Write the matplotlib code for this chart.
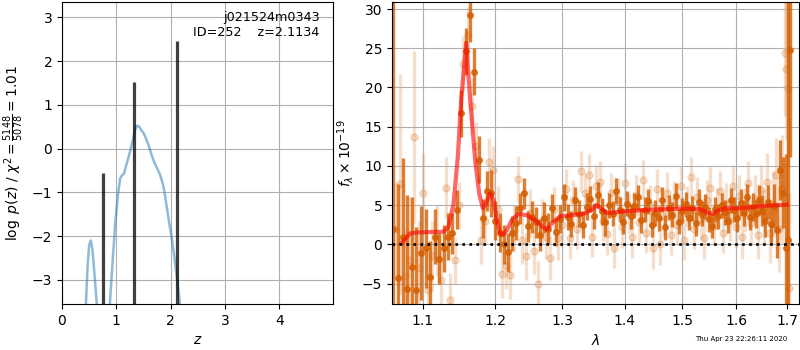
"""
Redshift fit figure: log p(z) on the left, 1D spectrum + best-fit model on the right.
"""
import numpy as np
import matplotlib
matplotlib.use("Agg")
import matplotlib.pyplot as plt
from matplotlib.ticker import NullLocator, NullFormatter, FixedLocator, FixedFormatter

# ---------- p(z) panel ----------
pz_z = [0.44, 0.47, 0.50, 0.53, 0.56, 0.60, 0.64, 0.70, 0.80, 0.88, 0.93, 0.98,
        1.03, 1.07, 1.10, 1.14, 1.20, 1.25, 1.30, 1.35, 1.38, 1.42, 1.46, 1.50,
        1.55, 1.60, 1.65, 1.70, 1.75, 1.80, 1.85, 1.88, 1.93, 1.98, 2.02, 2.07,
        2.12, 2.17, 2.20]
pz_logp = [-3.55, -2.7, -2.2, -2.1, -2.3, -2.9, -3.55, -4.5, -5.0, -3.55, -2.6, -1.7,
           -1.05, -0.68, -0.62, -0.57, -0.30, -0.08, 0.18, 0.45, 0.52, 0.50, 0.42, 0.36,
           0.22, 0.05, -0.15, -0.32, -0.45, -0.58, -0.78, -0.95, -1.35, -1.75, -2.05, -2.5,
           -3.0, -3.55, -3.9]
peak_z = [0.76, 1.32, 2.11]
peak_top = [-0.56, 1.52, 2.46]

obj_name = "j021524m0343"
obj_id = 252
z_best = 2.1134
chi2_num, chi2_den = 5148, 5078

# ---------- spectrum panel ----------
# binned spectrum (dark)
wave_b = [1.062, 1.068, 1.074, 1.080, 1.086, 1.092, 1.098, 1.104, 1.110, 1.116, 1.122, 1.128,
          1.134, 1.140, 1.146, 1.152, 1.158, 1.164, 1.170, 1.176, 1.182, 1.188, 1.194, 1.200,
          1.206, 1.212, 1.218, 1.224, 1.230, 1.236, 1.242, 1.248, 1.254, 1.260, 1.266, 1.272,
          1.278, 1.284, 1.290, 1.296,
          1.302, 1.308, 1.314, 1.320, 1.326, 1.332, 1.338, 1.344, 1.350, 1.356,
          1.362, 1.368, 1.374, 1.380, 1.386, 1.392, 1.398, 1.404, 1.410, 1.416,
          1.422, 1.428, 1.434, 1.440, 1.446, 1.452, 1.458, 1.464, 1.470, 1.476,
          1.482, 1.488, 1.494, 1.500, 1.506, 1.512, 1.518, 1.524, 1.530, 1.536,
          1.542, 1.548, 1.554, 1.560, 1.566, 1.572, 1.578, 1.584, 1.590, 1.596,
          1.602, 1.608, 1.614, 1.620, 1.626, 1.632, 1.638, 1.644, 1.650, 1.656,
          1.662, 1.668, 1.674, 1.680, 1.686, 1.692,
          1.697, 1.701, 1.706]
flux_b = [2.0, -4.3, 1.0, -5.7, -2.9, -5.8, -1.1, -0.5, -4.1, 1.0, -1.8, -0.5,
          1.0, 1.4, 4.4, 16.7, 24.6, 29.3, 22.0, 10.8, 3.3, 6.8, 6.5, 3.0,
          1.5, 0.0, -1.0, 1.4, 2.7, 4.6, 6.5, 2.3, 3.5, 2.8, 1.2, 3.4,
          2.0, 4.6, 1.6, 3.2,
          6.0, 3.5, 2.6, 5.6, 3.9, 2.5, 4.8, 5.8, 3.6, 6.3,
          4.2, 2.8, 5.0, 3.9, 6.8, 4.4, 2.9, 5.2, 3.6, 4.9,
          6.0, 3.1, 4.4, 5.5, 2.5, 4.0, 3.3, 5.7, 2.2, 4.7,
          3.8, 6.2, 2.9, 4.3, 5.1, 3.4, 4.6, 2.7, 5.4, 3.9,
          4.8, 3.2, 2.4, 4.5, 3.6, 5.0, 4.1, 3.0, 5.6, 4.4,
          3.3, 5.3, 4.0, 6.0, 3.5, 4.8, 3.9, 5.7, 4.3, 3.0,
          5.4, 2.6, 4.9, 1.8, 9.5, 6.6,
          -0.5, 0.5, 24.8]
err_b = [40, 12, 10, 12, 9, 8, 6, 5, 4.5, 3.5, 3.2, 3.0,
         3.0, 2.6, 2.5, 3.0, 3.0, 3.5, 3.0, 3.0, 2.5, 2.5, 3.0, 2.5,
         2.5, 2.5, 2.5, 2.2, 2.2, 2.0, 2.0, 2.0, 2.0, 2.0, 2.0, 2.0,
         2.0, 1.8, 1.8, 1.8,
         1.7, 1.7, 1.7, 1.7, 1.7, 1.7, 1.7, 1.7, 1.7, 1.7,
         1.7, 1.7, 1.6, 1.6, 1.6, 1.6, 1.6, 1.6, 1.6, 1.6,
         1.6, 1.6, 1.6, 1.6, 1.6, 1.6, 1.6, 1.6, 1.6, 1.6,
         1.6, 1.6, 1.6, 1.6, 1.6, 1.6, 1.6, 1.6, 1.6, 1.6,
         1.6, 1.6, 1.6, 1.6, 1.6, 1.6, 1.6, 1.6, 1.6, 1.6,
         1.7, 1.7, 1.7, 1.7, 1.7, 1.8, 1.8, 1.9, 2.0, 2.0,
         2.2, 2.5, 2.8, 3.5, 3.8, 4.5,
         12, 40, 13.6]

# individual-beam spectrum (faint)
wave_s = [1.065, 1.071, 1.077, 1.083, 1.089, 1.095, 1.101, 1.107, 1.113, 1.119, 1.125, 1.131,
          1.137, 1.143, 1.149, 1.155, 1.161, 1.167, 1.173, 1.179, 1.185, 1.191, 1.197, 1.203,
          1.209, 1.215, 1.221, 1.227, 1.233, 1.239, 1.245, 1.251, 1.257, 1.263, 1.269, 1.275,
          1.281, 1.287, 1.293, 1.299,
          1.305, 1.311, 1.317, 1.323, 1.329, 1.335, 1.341, 1.347, 1.353, 1.359,
          1.365, 1.371, 1.377, 1.383, 1.389, 1.395, 1.401, 1.407, 1.413, 1.419,
          1.425, 1.431, 1.437, 1.443, 1.449, 1.455, 1.461, 1.467, 1.473, 1.479,
          1.485, 1.491, 1.497, 1.503, 1.509, 1.515, 1.521, 1.527, 1.533, 1.539,
          1.545, 1.551, 1.557, 1.563, 1.569, 1.575, 1.581, 1.587, 1.593, 1.599,
          1.605, 1.611, 1.617, 1.623, 1.629, 1.635, 1.641, 1.647, 1.653, 1.659,
          1.665, 1.671, 1.677, 1.683, 1.689,
          1.695, 1.698, 1.701, 1.704]
flux_s = [2.0, 7.7, -4.0, -2.0, 13.7, -3.0, 6.6, -5.8, -1.5, 0.5, -4.5, 7.2,
          -7.1, -2.0, 5.0, 23.0, 26.7, 17.7, 12.6, 0.5, 3.0, 10.5, 9.5, 4.5,
          -3.8, -2.7, -3.9, 2.0, 8.3, 0.5, -1.5, 4.0, -0.8, -5.1, 3.0, 1.0,
          -1.7, 4.5, 0.8, 2.5,
          7.0, 0.8, 5.6, 2.0, 9.3, 6.5, 8.9, 1.0, 7.5, 8.0,
          3.0, 1.3, 6.5, -0.4, 5.8, 2.2, 7.8, 4.0, 0.9, 6.3,
          2.8, 8.2, 1.5, 5.0, -0.5, 7.0, 0.0, 3.6, 6.6, 1.2,
          5.5, 2.5, 7.4, 0.6, 4.8, 8.6, 2.0, 6.0, 3.2, 0.8,
          5.6, 7.2, 2.4, 4.6, 6.8, 1.5, 5.2, 3.0, 7.5, 2.2,
          6.2, 0.9, 4.4, 7.8, 2.7, 5.8, 1.2, 6.9, 3.6, 8.0,
          1.5, 5.1, 8.8, 2.0, 7.0,
          24.4, 22.3, 19.9, -5.5]
err_s = [6, 14, 6, 8, 11, 6, 5, 5, 4.5, 4.5, 4, 4,
         3.5, 3.0, 3.0, 3.5, 3.5, 3.5, 3.0, 3.0, 3.0, 3.0, 3.0, 3.0,
         3.0, 3.0, 3.0, 3.0, 3.0, 3.0, 3.0, 3.0, 3.0, 3.0, 2.8, 2.8,
         2.8, 2.8, 2.8, 2.8,
         2.6, 2.6, 2.6, 2.6, 2.6, 2.6, 2.6, 2.6, 2.6, 2.6,
         2.6, 2.6, 2.6, 2.6, 2.6, 2.6, 2.6, 2.6, 2.6, 2.6,
         2.6, 2.6, 2.6, 2.6, 2.6, 2.6, 2.6, 2.6, 2.6, 2.6,
         2.6, 2.6, 2.6, 2.6, 2.6, 2.6, 2.6, 2.6, 2.6, 2.6,
         2.6, 2.6, 2.6, 2.6, 2.6, 2.6, 2.6, 2.6, 2.6, 2.6,
         2.7, 2.7, 2.8, 2.8, 2.9, 3.0, 3.1, 3.2, 3.4, 3.6,
         3.9, 4.2, 4.8, 5.5, 7.0,
         8, 9, 10, 12]

# best-fit model
model_w = [1.0724, 1.0840, 1.0947, 1.1279, 1.1346, 1.1415, 1.1473, 1.1519, 1.1588, 1.1644,
           1.1713, 1.1769, 1.1821, 1.1868, 1.1924, 1.1972, 1.2020, 1.2068, 1.2107, 1.2165,
           1.2238, 1.2335, 1.2459, 1.2583, 1.2683, 1.2759, 1.2836, 1.2964, 1.3120, 1.3330,
           1.3463, 1.3544, 1.3625, 1.3706, 1.3981, 1.4375, 1.4957, 1.5317, 1.5470, 1.5563,
           1.5656, 1.5781, 1.6067, 1.6520, 1.6987]
model_f = [0.13, 1.4, 1.53, 1.62, 2.26, 5.2, 11.2, 18.4, 25.7, 18.4,
           10.8, 6.5, 4.6, 5.2, 6.5, 5.7, 3.1, 1.4, 1.2, 1.8,
           3.1, 3.9, 3.7, 3.1, 2.3, 1.9, 2.7, 3.6, 3.7, 3.9,
           4.4, 5.0, 4.5, 4.0, 4.2, 4.4, 4.55, 4.5, 4.0, 3.9,
           4.3, 4.6, 4.6, 4.9, 5.06]

wave_ticks = [1.1, 1.2, 1.3, 1.4, 1.5, 1.6, 1.7]
stamp = "Thu Apr 23 22:26:11 2020"
grism_color = (0.8352941176470589, 0.3686274509803922, 0.0)

# ---------- plot ----------
fig = plt.figure(figsize=(8, 3.5), dpi=100)
ax1 = fig.add_axes([0.0775, 0.1314, 0.339, 0.863])
ax2 = fig.add_axes([0.49, 0.1314, 0.509, 0.863])

# left: p(z)
ax1.plot(pz_z, pz_logp, color="C0", alpha=0.5, lw=1.8)
ax1.vlines(peak_z, -10, peak_top, color="k", alpha=0.75, lw=2.3)
ax1.text(0.95, 0.97, f"{obj_name}\nID={obj_id}    z={z_best:.4f}",
         transform=ax1.transAxes, ha="right", va="top", fontsize=9.2)
ax1.set_xlim(0, 4.99)
ax1.set_ylim(-3.55, 3.35)
ax1.set_xticks([0, 1, 2, 3, 4])
ax1.set_yticks([-3, -2, -1, 0, 1, 2, 3])
ax1.set_xlabel(r"$z$")
ax1.set_ylabel(r"$\log\ p(z)$" + " / " +
               r"$\chi^2=\frac{%d}{%d}=%.2f$" % (chi2_num, chi2_den, chi2_num / chi2_den))
ax1.grid()

# right: spectrum
ax2.errorbar(wave_s, flux_s, yerr=err_s, color=grism_color, alpha=0.2, marker="o",
             ms=5, linestyle="none", elinewidth=2.4, zorder=1)
ax2.errorbar(wave_b, flux_b, yerr=err_b, color=grism_color, alpha=0.8, marker="o",
             ms=4, linestyle="none", elinewidth=2.4, zorder=2)
ax2.plot(model_w, model_f, color="r", alpha=0.6, lw=3, zorder=3)
ax2.axhline(0, color="k", linestyle=":", lw=1.9, zorder=4)

ax2.set_xscale("log")
ax2.set_xlim(1.0606, 1.7245)
ax2.set_ylim(-7.6, 30.9)
ax2.xaxis.set_major_locator(FixedLocator(wave_ticks))
ax2.xaxis.set_major_formatter(FixedFormatter([f"{t:.1f}" for t in wave_ticks]))
ax2.xaxis.set_minor_locator(NullLocator())
ax2.xaxis.set_minor_formatter(NullFormatter())
ax2.set_yticks([-5, 0, 5, 10, 15, 20, 25, 30])
ax2.set_xlabel(r"$\lambda$")
ax2.set_ylabel(r"$f_\lambda\times10^{-19}$")
ax2.grid()

fig.text(0.984, 0.022, stamp, ha="right", va="bottom", fontsize=5)

fig.savefig("out.png", dpi=100)
plt.close(fig)
